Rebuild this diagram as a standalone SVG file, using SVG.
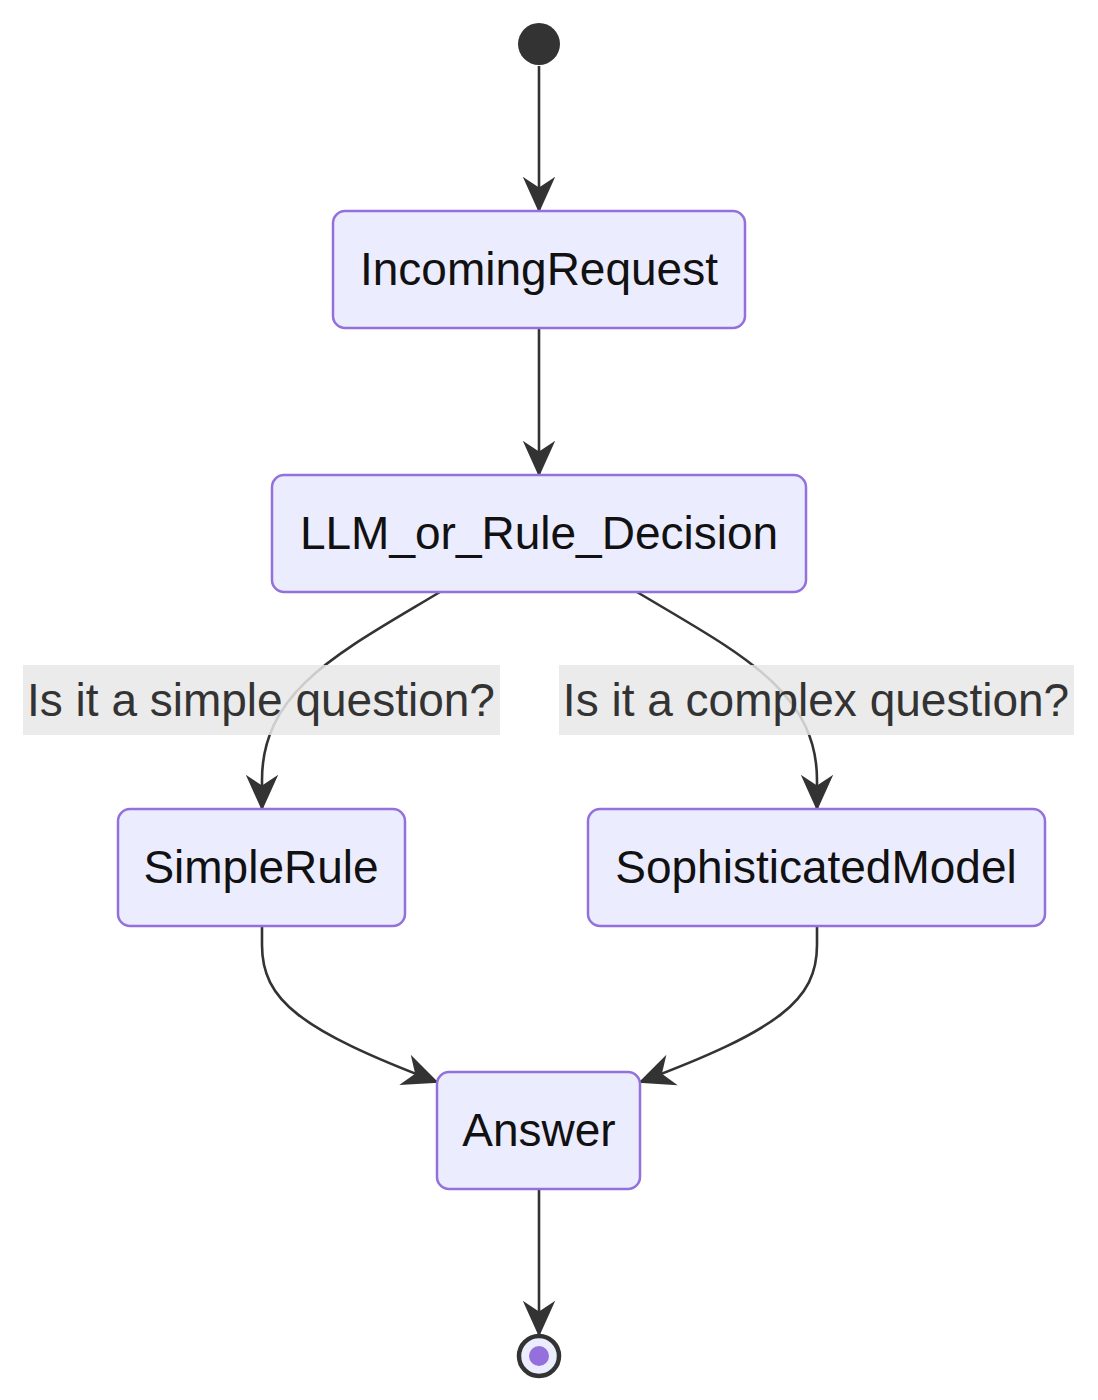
<svg xmlns="http://www.w3.org/2000/svg" width="1098" height="1400" viewBox="0 0 1098 1400">
<style>
.node rect{fill:#ECECFF;stroke:#9370DB;stroke-width:2.5}
.node text{font-family:"Liberation Sans",Arial,sans-serif;font-size:46px;fill:#111;text-anchor:middle;dominant-baseline:central}
.edge{fill:none;stroke:#333;stroke-width:2.6;marker-end:url(#arr)}
.lbl rect{fill:#E8E8E8;opacity:0.85}
.lbl text{font-family:"Liberation Sans",Arial,sans-serif;font-size:46px;fill:#333;text-anchor:middle;dominant-baseline:central}
</style>
<defs>
<marker id="arr" viewBox="0 0 20 20" refX="19" refY="10" markerWidth="36" markerHeight="36" markerUnits="userSpaceOnUse" orient="auto">
<path d="M0,1 L20,10 L0,19 L6,10 z" fill="#333"/>
</marker>
</defs>
<rect width="1098" height="1400" fill="#fff"/>
<g id="connectors">
<path class="edge" d="M539,66 L539,211"/>
<path class="edge" d="M539,328 L539,475"/>
<path class="edge" d="M440,592 C340,652 262,690 262,780 L262,809"/>
<path class="edge" d="M637,592 C737,652 817,690 817,780 L817,809"/>
<path class="edge" d="M262,926 L262,945 C262,1000 300,1030 437,1082"/>
<path class="edge" d="M817,926 L817,945 C817,1000 779,1030 640,1082"/>
<path class="edge" d="M539,1189 L539,1335"/>
</g>
<g id="label-simple" class="lbl"><rect x="23" y="665" width="477" height="70"/><text x="261" y="700">Is it a simple question?</text></g>
<g id="label-complex" class="lbl"><rect x="559" y="665" width="515" height="70"/><text x="816" y="700">Is it a complex question?</text></g>
<g id="start"><circle cx="539" cy="44" r="21" fill="#333"/></g>
<g id="IncomingRequest" class="node"><rect x="333" y="211" width="412" height="117" rx="12"/><text x="539" y="269">IncomingRequest</text></g>
<g id="LLM_or_Rule_Decision" class="node"><rect x="272" y="475" width="534" height="117" rx="12"/><text x="539" y="533">LLM_or_Rule_Decision</text></g>
<g id="SimpleRule" class="node"><rect x="118" y="809" width="287" height="117" rx="12"/><text x="261" y="867">SimpleRule</text></g>
<g id="SophisticatedModel" class="node"><rect x="588" y="809" width="457" height="117" rx="12"/><text x="816" y="867">SophisticatedModel</text></g>
<g id="Answer" class="node"><rect x="437" y="1072" width="203" height="117" rx="12"/><text x="539" y="1130">Answer</text></g>
<g id="end"><circle cx="539" cy="1356" r="20" fill="#ECECFF" stroke="#333" stroke-width="4.5"/><circle cx="539" cy="1356" r="10" fill="#9370DB"/></g>
</svg>
